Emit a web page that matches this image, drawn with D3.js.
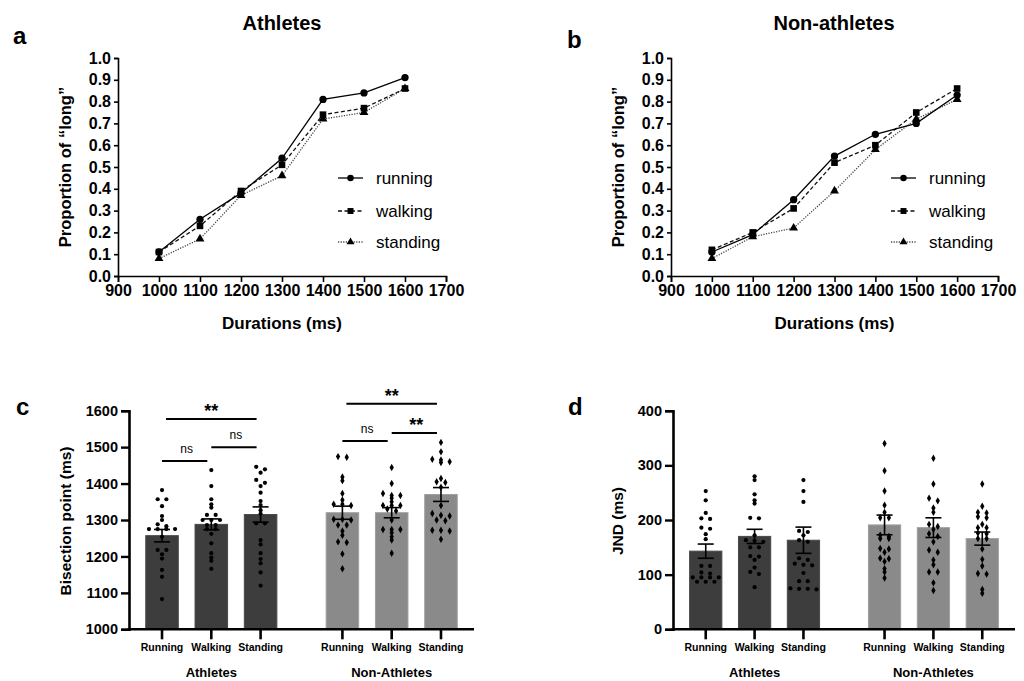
<!DOCTYPE html>
<html>
<head>
<meta charset="utf-8">
<script src="https://cdn.jsdelivr.net/npm/d3@7"></script>
<style>
  body { margin: 0; background: #fff; }
  svg { font-family: "Liberation Sans", Arial, sans-serif; }
</style>
</head>
<body>
<div id="fig"></div>
<script>
// psychometric curves (panels a, b)
var durations = [1000, 1100, 1200, 1300, 1400, 1500, 1600];
var durationTicks = [900, 1000, 1100, 1200, 1300, 1400, 1500, 1600, 1700];
var propTicks = [0, 0.1, 0.2, 0.3, 0.4, 0.5, 0.6, 0.7, 0.8, 0.9, 1.0];
var athRunning  = [0.11, 0.26, 0.38, 0.54, 0.81, 0.84, 0.91];
var athWalking  = [0.11, 0.23, 0.39, 0.51, 0.74, 0.77, 0.86];
var athStanding = [0.08, 0.17, 0.37, 0.46, 0.72, 0.75, 0.86];
var nonRunning  = [0.11, 0.19, 0.35, 0.55, 0.65, 0.70, 0.83];
var nonWalking  = [0.12, 0.20, 0.31, 0.52, 0.60, 0.75, 0.86];
var nonStanding = [0.08, 0.18, 0.22, 0.39, 0.58, 0.72, 0.81];
var legendNames = ["running", "walking", "standing"];

// bar charts (panels c, d)
var conditions = ["Running", "Walking", "Standing"];
var groups = ["Athletes", "Non-Athletes"];
var bisectTicks = [1000, 1100, 1200, 1300, 1400, 1500, 1600];
var bisectMean = [1257, 1288, 1315, 1320, 1320, 1370];
var bisectSem  = [17, 15, 21, 18, 14, 19];
var bisAthRunning  = [1382, 1357, 1357, 1338, 1311, 1300, 1288, 1283, 1275, 1275, 1275, 1275, 1254, 1218, 1218, 1206, 1194, 1163, 1144, 1083];
var bisAthWalking  = [1437, 1393, 1357, 1343, 1334, 1314, 1314, 1300, 1300, 1300, 1286, 1286, 1275, 1275, 1262, 1236, 1209, 1197, 1188, 1166];
var bisAthStanding = [1446, 1439, 1430, 1410, 1402, 1393, 1375, 1352, 1341, 1327, 1317, 1291, 1291, 1245, 1233, 1209, 1193, 1181, 1156, 1120];
var bisNonRunning  = [1474, 1472, 1418, 1408, 1373, 1355, 1343, 1343, 1340, 1302, 1302, 1300, 1286, 1286, 1270, 1258, 1240, 1238, 1207, 1166];
var bisNonWalking  = [1444, 1400, 1373, 1367, 1367, 1360, 1350, 1340, 1340, 1340, 1325, 1300, 1274, 1274, 1274, 1265, 1254, 1245, 1209, 1330];
var bisNonStanding = [1513, 1487, 1467, 1465, 1460, 1458, 1414, 1405, 1403, 1390, 1340, 1318, 1313, 1311, 1300, 1298, 1272, 1272, 1270, 1247];
var jndTicks = [0, 100, 200, 300, 400];
var jndMean = [143, 170, 163, 191, 186, 166];
var jndSem  = [13, 13, 24, 18, 18, 12];
var jndAthRunning  = [253, 236, 213, 203, 202, 186, 184, 174, 165, 116, 116, 104, 102, 95, 95, 95, 95, 87, 87, 87];
var jndAthWalking  = [280, 273, 247, 236, 230, 204, 203, 172, 163, 162, 160, 150, 150, 134, 133, 127, 113, 105, 101, 77];
var jndAthStanding = [273, 253, 233, 180, 178, 172, 163, 160, 130, 127, 120, 118, 117, 103, 88, 88, 75, 74, 74, 73];
var jndNonRunning  = [340, 290, 253, 227, 214, 204, 204, 172, 170, 166, 166, 148, 147, 141, 130, 129, 124, 111, 105, 94];
var jndNonWalking  = [313, 266, 240, 235, 222, 214, 192, 188, 183, 175, 170, 160, 145, 141, 127, 118, 105, 105, 85, 71];
var jndNonStanding = [266, 225, 214, 213, 206, 204, 192, 186, 186, 176, 166, 166, 147, 128, 116, 101, 102, 73, 66, 175];
// significance brackets for panel c: bar index from, to, label, level (ms)
var sigFrom  = [0, 0, 1, 3, 3, 4];
var sigTo    = [1, 2, 2, 4, 5, 5];
var sigLabel = ["ns", "**", "ns", "ns", "**", "**"];
var sigLevel = [1462, 1577, 1500, 1517, 1619, 1539];

var W = 1024, H = 681;
var svg = d3.select("#fig").append("svg")
	.attr("width", W)
	.attr("height", H);
svg.append("rect").attr("width", W).attr("height", H).attr("fill", "#fff");

function drawPsych(left, right, title, titleX, letter, letterX, letterY, series, legX) {
	var x = d3.scaleLinear().domain([900, 1700]).range([left, right]);
	var y = d3.scaleLinear().domain([0, 1]).range([276, 58]);
	var g = svg.append("g");

	g.append("text").attr("x", letterX).attr("y", letterY)
		.attr("font-size", 24).attr("font-weight", "bold").text(letter);
	g.append("text").attr("x", titleX).attr("y", 30)
		.attr("text-anchor", "middle").attr("font-size", 20).attr("font-weight", "bold").text(title);

	var yAxis = g.append("g").attr("transform", "translate(" + left + ",0)")
		.call(d3.axisLeft(y).tickValues(propTicks).tickFormat(d3.format(".1f")).tickSize(4).tickPadding(3));
	var xAxis = g.append("g").attr("transform", "translate(0,276)")
		.call(d3.axisBottom(x).tickValues(durationTicks).tickFormat(d3.format("d")).tickSize(6).tickPadding(3));
	[yAxis, xAxis].forEach(function(a) {
		a.select(".domain").attr("stroke-width", 1.6);
		a.selectAll(".tick line").attr("stroke-width", 1.6);
		a.selectAll("text").attr("font-size", 16).attr("font-weight", "bold")
			.attr("font-family", "Liberation Sans, Arial, sans-serif").attr("fill", "#000");
	});

	g.append("text")
		.attr("transform", "translate(" + (left - 47) + ",167) rotate(-90)")
		.attr("text-anchor", "middle").attr("font-size", 16.5).attr("font-weight", "bold")
		.text("Proportion of \u201Clong\u201D");
	g.append("text").attr("x", (left + right) / 2).attr("y", 329)
		.attr("text-anchor", "middle").attr("font-size", 17).attr("font-weight", "bold")
		.text("Durations (ms)");

	var styles = [
		{dash: null, color: "#000", sym: d3.symbolCircle, size: 42},
		{dash: "4,2.5", color: "#111", sym: d3.symbolSquare, size: 44},
		{dash: "1.2,1.4", color: "#444", sym: d3.symbolTriangle, size: 34}
	];
	var line = d3.line()
		.x(function(d, i) { return x(durations[i]); })
		.y(function(d) { return y(d); });

	// draw standing first so running ends up on top
	[2, 1, 0].forEach(function(k) {
		var s = styles[k];
		g.append("path").datum(series[k])
			.attr("fill", "none").attr("stroke", s.color).attr("stroke-width", 1.3)
			.attr("stroke-dasharray", s.dash)
			.attr("d", line);
		g.selectAll(".m" + k).data(series[k]).enter().append("path")
			.attr("class", "m" + k)
			.attr("transform", function(d, i) { return "translate(" + x(durations[i]) + "," + y(d) + ")"; })
			.attr("d", d3.symbol().type(s.sym).size(s.size))
			.attr("fill", "#000");
	});

	var rowY = [178, 211, 242];
	legendNames.forEach(function(name, k) {
		var s = styles[k];
		g.append("line").attr("x1", legX).attr("x2", legX + 25)
			.attr("y1", rowY[k]).attr("y2", rowY[k])
			.attr("stroke", s.color).attr("stroke-width", 1.3).attr("stroke-dasharray", s.dash);
		g.append("path").attr("transform", "translate(" + (legX + 12.5) + "," + rowY[k] + ")")
			.attr("d", d3.symbol().type(s.sym).size(s.size * 0.8)).attr("fill", "#000");
		g.append("text").attr("x", legX + 38).attr("y", rowY[k] + 6)
			.attr("font-size", 17).text(name);
	});
}

drawPsych(118, 446, "Athletes", 282, "a", 13, 44, [athRunning, athWalking, athStanding], 338);
drawPsych(671, 998, "Non-athletes", 834, "b", 567, 48, [nonRunning, nonWalking, nonStanding], 891);

// spread points that share the same height, like a column scatter
function swarm(vals, cx, y) {
	var pts = vals.map(function(v) { return {v: v, py: y(v)}; })
		.sort(function(a, b) { return a.py - b.py; });
	var rows = [], cur = null;
	pts.forEach(function(p) {
		if (cur && p.py - cur[0].py < 3.2 && cur.length < 5) { cur.push(p); }
		else { cur = [p]; rows.push(cur); }
	});
	rows.forEach(function(r) {
		r.forEach(function(p, i) { p.px = cx + (i - (r.length - 1) / 2) * 8.7; });
	});
	return pts;
}

function drawBars(left, right, yDomain, ticks, means, sems, dots, letter, letterX, ylabel, ylabelX, fmt) {
	var x = d3.scaleLinear().domain([-0.67, 6.33]).range([left, right]);
	var y = d3.scaleLinear().domain(yDomain).range([629.3, 410.7]);
	var pos = [0, 1, 2, 3.66, 4.66, 5.66];
	var bw = (x(1) - x(0)) * 0.66;
	var g = svg.append("g");

	g.append("text").attr("x", letterX).attr("y", 415)
		.attr("font-size", 24).attr("font-weight", "bold").text(letter);

	g.selectAll(".bar").data(means).enter().append("rect")
		.attr("class", "bar")
		.attr("x", function(d, i) { return x(pos[i]) - bw / 2; })
		.attr("y", function(d) { return y(d); })
		.attr("width", bw)
		.attr("height", function(d) { return y(yDomain[0]) - y(d); })
		.attr("fill", function(d, i) { return i < 3 ? "#3d3d3d" : "#8a8a8a"; })
		.attr("stroke", function(d, i) { return i < 3 ? "#484848" : "#a0a0a0"; })
		.attr("stroke-width", 1);

	dots.forEach(function(vals, i) {
		var pts = swarm(vals, x(pos[i]), y);
		if (i < 3) {
			g.selectAll(".d" + i).data(pts).enter().append("circle")
				.attr("class", "d" + i)
				.attr("cx", function(d) { return d.px; })
				.attr("cy", function(d) { return d.py; })
				.attr("r", 2.1).attr("fill", "#000");
		} else {
			g.selectAll(".d" + i).data(pts).enter().append("path")
				.attr("class", "d" + i)
				.attr("transform", function(d) { return "translate(" + d.px + "," + d.py + ")"; })
				.attr("d", d3.symbol().type(d3.symbolDiamond).size(16))
				.attr("fill", "#000");
		}
	});

	means.forEach(function(m, i) {
		var cx = x(pos[i]);
		g.append("line").attr("x1", cx).attr("x2", cx)
			.attr("y1", y(m - sems[i])).attr("y2", y(m + sems[i]))
			.attr("stroke", "#000").attr("stroke-width", 1.6);
		[m - sems[i], m + sems[i]].forEach(function(v) {
			g.append("line").attr("x1", cx - 8).attr("x2", cx + 8)
				.attr("y1", y(v)).attr("y2", y(v))
				.attr("stroke", "#000").attr("stroke-width", 1.6);
		});
	});

	var yAxis = g.append("g").attr("transform", "translate(" + left + ",0)")
		.call(d3.axisLeft(y).tickValues(ticks).tickFormat(fmt).tickSize(8).tickPadding(3));
	yAxis.select(".domain").attr("stroke-width", 2.6);
	yAxis.selectAll(".tick line").attr("stroke-width", 2.4);
	yAxis.selectAll("text").attr("font-size", 14.5).attr("font-weight", "bold")
		.attr("font-family", "Liberation Sans, Arial, sans-serif").attr("fill", "#000");

	g.append("line").attr("x1", left - 1.3).attr("x2", right)
		.attr("y1", y(yDomain[0])).attr("y2", y(yDomain[0]))
		.attr("stroke", "#000").attr("stroke-width", 2.6);
	pos.forEach(function(p, i) {
		g.append("line").attr("x1", x(p)).attr("x2", x(p))
			.attr("y1", y(yDomain[0])).attr("y2", y(yDomain[0]) + 10)
			.attr("stroke", "#000").attr("stroke-width", 2.6);
		g.append("text").attr("x", x(p)).attr("y", 651)
			.attr("text-anchor", "middle").attr("font-size", 10.5).attr("font-weight", "bold")
			.text(conditions[i % 3]);
	});
	groups.forEach(function(name, k) {
		g.append("text").attr("x", x(pos[k * 3 + 1])).attr("y", 677)
			.attr("text-anchor", "middle").attr("font-size", 13).attr("font-weight", "bold")
			.text(name);
	});

	g.append("text")
		.attr("transform", "translate(" + ylabelX + ",521) rotate(-90)")
		.attr("text-anchor", "middle").attr("font-size", 15.5).attr("font-weight", "bold")
		.text(ylabel);

	return {g: g, x: x, y: y, pos: pos};
}

var pc = drawBars(129, 474, [1000, 1600], bisectTicks, bisectMean, bisectSem,
	[bisAthRunning, bisAthWalking, bisAthStanding, bisNonRunning, bisNonWalking, bisNonStanding],
	"c", 16, "Bisection point (ms)", 71, d3.format("d"));

sigLabel.forEach(function(lab, k) {
	var x1 = pc.x(pc.pos[sigFrom[k]]), x2 = pc.x(pc.pos[sigTo[k]]);
	var yy = pc.y(sigLevel[k]);
	var inset = (sigTo[k] - sigFrom[k]) == 1 ? 0 : 4;
	pc.g.append("line").attr("x1", x1 + inset).attr("x2", x2 - 4)
		.attr("y1", yy).attr("y2", yy)
		.attr("stroke", "#000").attr("stroke-width", 2);
	pc.g.append("text").attr("x", (x1 + x2) / 2).attr("y", lab == "**" ? yy - 2 : yy - 8)
		.attr("text-anchor", "middle")
		.attr("font-size", lab == "**" ? 18 : 12)
		.attr("font-weight", lab == "**" ? "bold" : "normal")
		.text(lab);
});

drawBars(673, 1015, [0, 400], jndTicks, jndMean, jndSem,
	[jndAthRunning, jndAthWalking, jndAthStanding, jndNonRunning, jndNonWalking, jndNonStanding],
	"d", 568, "JND (ms)", 623, d3.format("d"));
</script>
</body>
</html>
